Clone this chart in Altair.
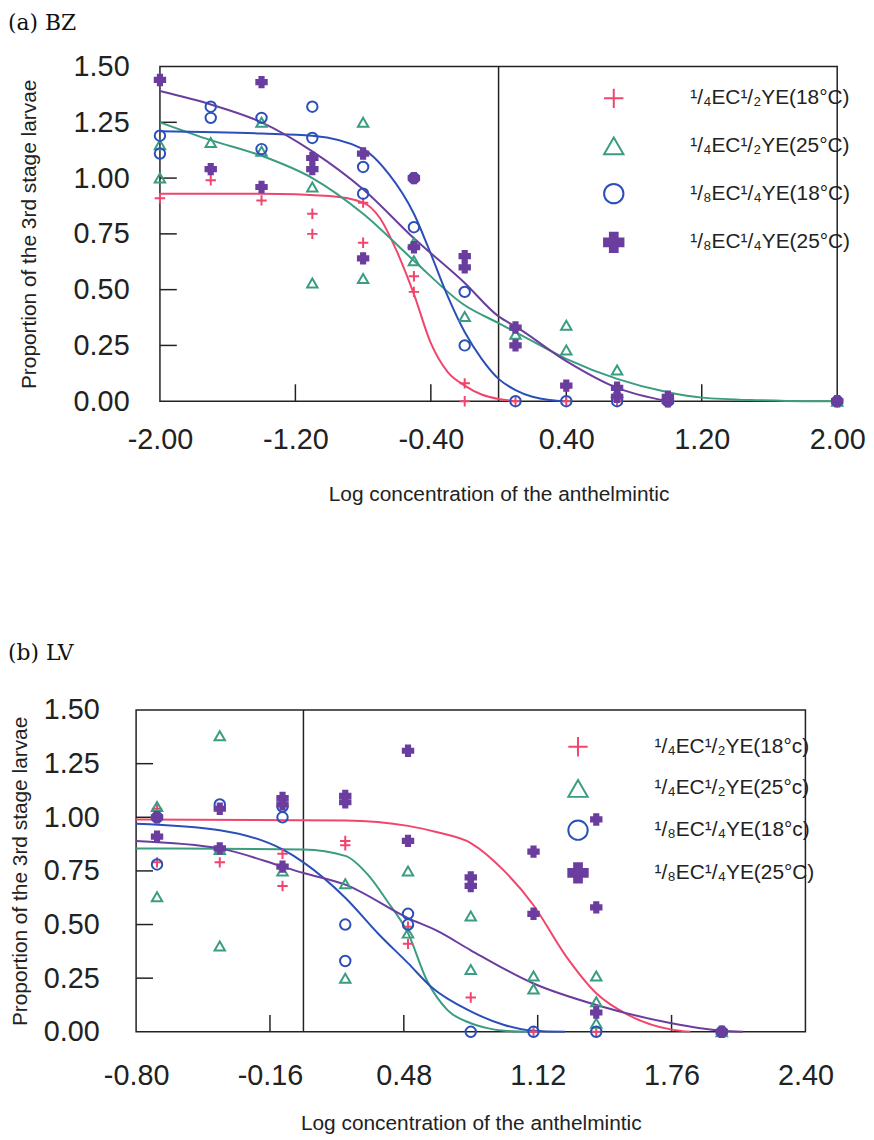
import altair as alt
import pandas as pd

# ---------------- (a) BZ ----------------
bz_names = ["¹/₄EC¹/₂YE(18°C)", "¹/₄EC¹/₂YE(25°C)", "¹/₈EC¹/₄YE(18°C)", "¹/₈EC¹/₄YE(25°C)"]

bz_red_x = [-2.0, -1.7, -1.4, -1.1, -1.1, -0.8, -0.8, -0.5, -0.5, -0.2, -0.2, 0.1, 0.4, 0.7]
bz_red_y = [0.91, 0.99, 0.90, 0.84, 0.75, 0.89, 0.71, 0.56, 0.49, 0.08, 0.0, 0.0, 0.0, 0.0]
bz_green_x = [-2.0, -2.0, -1.7, -1.4, -1.4, -1.1, -1.1, -0.8, -0.8, -0.5, -0.5, -0.2, 0.1, 0.4, 0.4, 0.7, 0.7, 1.0, 2.0]
bz_green_y = [1.15, 1.00, 1.16, 1.25, 1.12, 0.96, 0.53, 1.25, 0.55, 0.71, 0.63, 0.38, 0.30, 0.34, 0.23, 0.14, 0.04, 0.02, 0.0]
bz_blue_x = [-2.0, -2.0, -1.7, -1.7, -1.4, -1.4, -1.1, -1.1, -0.8, -0.8, -0.5, -0.5, -0.2, -0.2, 0.1, 0.4, 0.7, 1.0, 2.0]
bz_blue_y = [1.19, 1.11, 1.32, 1.27, 1.27, 1.13, 1.32, 1.18, 1.05, 0.93, 1.00, 0.78, 0.49, 0.25, 0.0, 0.0, 0.0, 0.0, 0.0]
bz_purple_x = [-2.0, -1.7, -1.4, -1.4, -1.1, -1.1, -0.8, -0.8, -0.5, -0.5, -0.2, -0.2, 0.1, 0.1, 0.4, 0.7, 0.7, 1.0, 1.0, 2.0]
bz_purple_y = [1.44, 1.04, 1.43, 0.96, 1.09, 1.04, 1.11, 0.64, 1.00, 0.69, 0.65, 0.60, 0.33, 0.25, 0.07, 0.06, 0.02, 0.02, 0.0, 0.0]

# fitted curves
bz_red_cx = [-2.0, -1.4, -1.0, -0.8, -0.7, -0.6, -0.5, -0.4, -0.3, -0.2, -0.1, 0.0, 0.1]
bz_red_cy = [0.93, 0.93, 0.92, 0.89, 0.82, 0.67, 0.48, 0.26, 0.13, 0.07, 0.03, 0.01, 0.0]
bz_green_cx = [-2.0, -1.7, -1.4, -1.1, -0.8, -0.5, -0.2, 0.0, 0.1, 0.4, 0.7, 1.0, 1.2, 1.55, 1.8, 2.0]
bz_green_cy = [1.25, 1.17, 1.10, 1.00, 0.84, 0.63, 0.43, 0.35, 0.31, 0.19, 0.10, 0.04, 0.016, 0.004, 0.0, 0.0]
bz_blue_cx = [-2.0, -1.4, -1.1, -0.8, -0.65, -0.5, -0.4, -0.3, -0.2, -0.1, 0.0, 0.1, 0.2, 0.3, 0.4]
bz_blue_cy = [1.21, 1.20, 1.19, 1.13, 1.02, 0.84, 0.66, 0.47, 0.31, 0.19, 0.10, 0.05, 0.02, 0.005, 0.0]
bz_purple_cx = [-2.0, -1.7, -1.4, -1.1, -0.8, -0.5, -0.2, 0.0, 0.1, 0.4, 0.7, 1.0]
bz_purple_cy = [1.39, 1.33, 1.25, 1.12, 0.95, 0.73, 0.53, 0.38, 0.335, 0.18, 0.06, 0.0]

bz_ref = [0.0]
bz_xticks = [-2.0, -1.2, -0.4, 0.4, 1.2, 2.0]
bz_xinner = [-1.2, -0.4, 0.4, 1.2]

# ---------------- (b) LV ----------------
lv_names = ["¹/₄EC¹/₂YE(18°c)", "¹/₄EC¹/₂YE(25°c)", "¹/₈EC¹/₄YE(18°c)", "¹/₈EC¹/₄YE(25°C)"]

lv_red_x = [-0.7, -0.7, -0.4, -0.1, -0.1, 0.2, 0.2, 0.5, 0.5, 0.8, 1.1, 1.4, 2.0]
lv_red_y = [1.04, 0.79, 0.79, 0.83, 0.68, 0.89, 0.87, 0.49, 0.41, 0.16, 0.0, 0.0, 0.0]
lv_green_x = [-0.7, -0.7, -0.4, -0.4, -0.4, -0.1, 0.2, 0.2, 0.5, 0.5, 0.8, 0.8, 1.1, 1.1, 1.4, 1.4, 1.4, 2.0]
lv_green_y = [1.05, 0.63, 1.38, 0.85, 0.40, 0.75, 0.69, 0.25, 0.75, 0.46, 0.54, 0.29, 0.26, 0.20, 0.26, 0.14, 0.04, 0.0]
lv_blue_x = [-0.7, -0.7, -0.4, -0.1, -0.1, 0.2, 0.2, 0.5, 0.5, 0.8, 1.1, 1.4, 2.0]
lv_blue_y = [1.00, 0.78, 1.06, 1.05, 1.00, 0.50, 0.33, 0.55, 0.50, 0.0, 0.0, 0.0, 0.0]
lv_purple_x = [-0.7, -0.7, -0.4, -0.4, -0.1, -0.1, -0.1, 0.2, 0.2, 0.5, 0.5, 0.8, 0.8, 1.1, 1.1, 1.4, 1.4, 1.4, 2.0]
lv_purple_y = [1.00, 0.91, 1.04, 0.855, 1.09, 1.06, 0.77, 1.10, 1.07, 1.31, 0.89, 0.72, 0.68, 0.84, 0.55, 0.99, 0.58, 0.09, 0.0]

lv_red_cx = [-0.8, 0.2, 0.5, 0.64, 0.8, 0.96, 1.1, 1.25, 1.4, 1.55, 1.76, 1.85]
lv_red_cy = [0.99, 0.985, 0.96, 0.93, 0.88, 0.75, 0.59, 0.36, 0.18, 0.08, 0.01, 0.0]
lv_green_cx = [-0.8, 0.0, 0.2, 0.31, 0.40, 0.5, 0.59, 0.69, 0.8, 0.88, 0.96, 1.1]
lv_green_cy = [0.855, 0.85, 0.82, 0.73, 0.61, 0.46, 0.24, 0.10, 0.04, 0.017, 0.005, 0.0]
lv_blue_cx = [-0.8, -0.4, -0.1, 0.0, 0.2, 0.36, 0.5, 0.61, 0.8, 0.96, 1.1, 1.25]
lv_blue_cy = [0.97, 0.94, 0.85, 0.79, 0.625, 0.455, 0.32, 0.21, 0.095, 0.032, 0.005, 0.0]
lv_purple_cx = [-0.8, -0.4, -0.1, 0.0, 0.2, 0.5, 0.64, 0.8, 1.1, 1.4, 1.76, 2.0, 2.1]
lv_purple_cy = [0.89, 0.855, 0.77, 0.74, 0.686, 0.53, 0.47, 0.38, 0.225, 0.125, 0.04, 0.005, 0.0]

lv_ref = [0.0]
lv_xticks = [-0.80, -0.16, 0.48, 1.12, 1.76, 2.40]
lv_xinner = [-0.16, 0.48, 1.12, 1.76]

y_ticks = [0.0, 0.25, 0.5, 0.75, 1.0, 1.25, 1.5]
y_inner = [0.25, 0.5, 0.75, 1.0, 1.25]

colors = ["#f2456c", "#3a9c80", "#2a4fb8", "#6a3d9e"]
shapes = ["M-1,0H1M0,-1V1", "triangle-up", "circle", "cross"]
fills = ["transparent", "transparent", "transparent", "#6a3d9e"]

FRAME = "#222222"
LABEL_FONT = "Liberation Sans"
ORIGIN = 137  # page x of the column origin


def frame_of(names, xs_list, ys_list):
    rows = []
    for name, xs, ys in zip(names, xs_list, ys_list):
        for a, b in zip(xs, ys):
            rows.append({"x": a, "y": b, "series": name})
    return pd.DataFrame(rows)


def panel(names, pts_x, pts_y, cur_x, cur_y, ref, xdom, xticks, xinner,
          x0, x1, height, title, title_y,
          lab_pad_x, title_pad_x, lab_pad_y, title_pad_y,
          leg_x, leg_y, leg_row_pad):
    xscale = alt.Scale(domain=xdom, nice=False, zero=False, range=[x0, x1])
    yscale = alt.Scale(domain=[0, 1.5], nice=False, zero=False)
    xaxis = alt.Axis(values=xticks, format=".2f",
                     labelExpr="replace(datum.label, '\u2212', '-')",
                     title="Log concentration of the anthelmintic",
                     labelPadding=lab_pad_x, titlePadding=title_pad_x,
                     labelFlush=False, labelOverlap=False, labelBound=False)
    yaxis = alt.Axis(values=y_ticks, format=".2f",
                     title="Proportion of the 3rd stage larvae",
                     labelPadding=lab_pad_y, titlePadding=title_pad_y,
                     labelFlush=False, labelOverlap=False, labelBound=False)
    X = alt.X("x:Q", scale=xscale, axis=xaxis)
    Y = alt.Y("y:Q", scale=yscale, axis=yaxis)

    pts = frame_of(names, pts_x, pts_y)

    one = pd.DataFrame({"t": [title]})
    frame_layer = alt.Chart(one).mark_rect(
        fill="transparent", stroke=FRAME, strokeWidth=1.5).encode(
        x=alt.value(x0), x2=alt.value(x1), y=alt.value(0), y2=alt.value(height))
    title_layer = alt.Chart(one).mark_text(
        align="left", baseline="top", font="DejaVu Serif", fontSize=22, color="#111").encode(
        text="t:N", x=alt.value(8 - ORIGIN), y=alt.value(title_y))

    ref_layer = alt.Chart(pd.DataFrame({"x": ref})).mark_rule(
        color=FRAME, strokeWidth=1.5).encode(x=X)

    ytick_layer = alt.Chart(pd.DataFrame({"y": y_inner})).mark_rule(
        color=FRAME, strokeWidth=1.5).encode(
        y=Y, x=alt.value(x0), x2=alt.value(x0 + 17))
    xtick_layer = alt.Chart(pd.DataFrame({"x": xinner})).mark_rule(
        color=FRAME, strokeWidth=1.5).encode(
        x=X, y=alt.value(height), y2=alt.value(height - 17))

    line_layers = []
    for name, cx, cy, col in zip(names, cur_x, cur_y, colors):
        df = pd.DataFrame({"x": cx, "y": cy})
        line_layers.append(
            alt.Chart(df).mark_line(strokeWidth=2, interpolate="monotone", color=col).encode(x=X, y=Y)
        )

    leg = alt.Legend(title=None, orient="none", legendX=leg_x, legendY=leg_y,
                     labelFont=LABEL_FONT, labelFontSize=21, labelColor="#222",
                     symbolSize=380, symbolStrokeWidth=2, labelOffset=66,
                     rowPadding=leg_row_pad, padding=0, labelLimit=400)
    point_layer = alt.Chart(pts).mark_point(filled=False, strokeWidth=2, size=110, opacity=1).encode(
        x=X, y=Y,
        color=alt.Color("series:N", scale=alt.Scale(domain=names, range=colors), legend=leg),
        shape=alt.Shape("series:N", scale=alt.Scale(domain=names, range=shapes), legend=leg),
        fill=alt.Fill("series:N", scale=alt.Scale(domain=names, range=fills), legend=leg),
    )

    return alt.layer(frame_layer, title_layer, ref_layer, ytick_layer, xtick_layer,
                     *line_layers, point_layer).properties(width=x1, height=height)


top = panel(bz_names,
            [bz_red_x, bz_green_x, bz_blue_x, bz_purple_x],
            [bz_red_y, bz_green_y, bz_blue_y, bz_purple_y],
            [bz_red_cx, bz_green_cx, bz_blue_cx, bz_purple_cx],
            [bz_red_cy, bz_green_cy, bz_blue_cy, bz_purple_cy],
            bz_ref, [-2.0, 2.0], bz_xticks, bz_xinner,
            161 - ORIGIN, 843 - ORIGIN, 337, "(a) BZ", -54,
            25, 29, 7, 34,
            612 - ORIGIN - 5, 21, 21)

bottom = panel(lv_names,
               [lv_red_x, lv_green_x, lv_blue_x, lv_purple_x],
               [lv_red_y, lv_green_y, lv_blue_y, lv_purple_y],
               [lv_red_cx, lv_green_cx, lv_blue_cx, lv_purple_cx],
               [lv_red_cy, lv_green_cy, lv_blue_cy, lv_purple_cy],
               lv_ref, [-0.8, 2.4], lv_xticks, lv_xinner,
               0, 811 - ORIGIN, 324, "(b) LV", -67,
               30, 22, 37, 13,
               577 - ORIGIN - 6, 26, 15)

chart = alt.concat(top, bottom, columns=1, spacing=139).resolve_scale(
    x="independent", y="independent", color="independent", shape="independent",
    fill="independent"
).properties(
    padding=0
).configure_view(stroke=None).configure_axis(
    grid=False, domain=False, ticks=False,
    labelFont=LABEL_FONT, labelFontSize=29, labelColor="#222",
    titleFont=LABEL_FONT, titleFontSize=21, titleColor="#222", titleFontWeight="normal",
)

chart.save("out.html", embed_options={"renderer": "svg", "actions": False})
